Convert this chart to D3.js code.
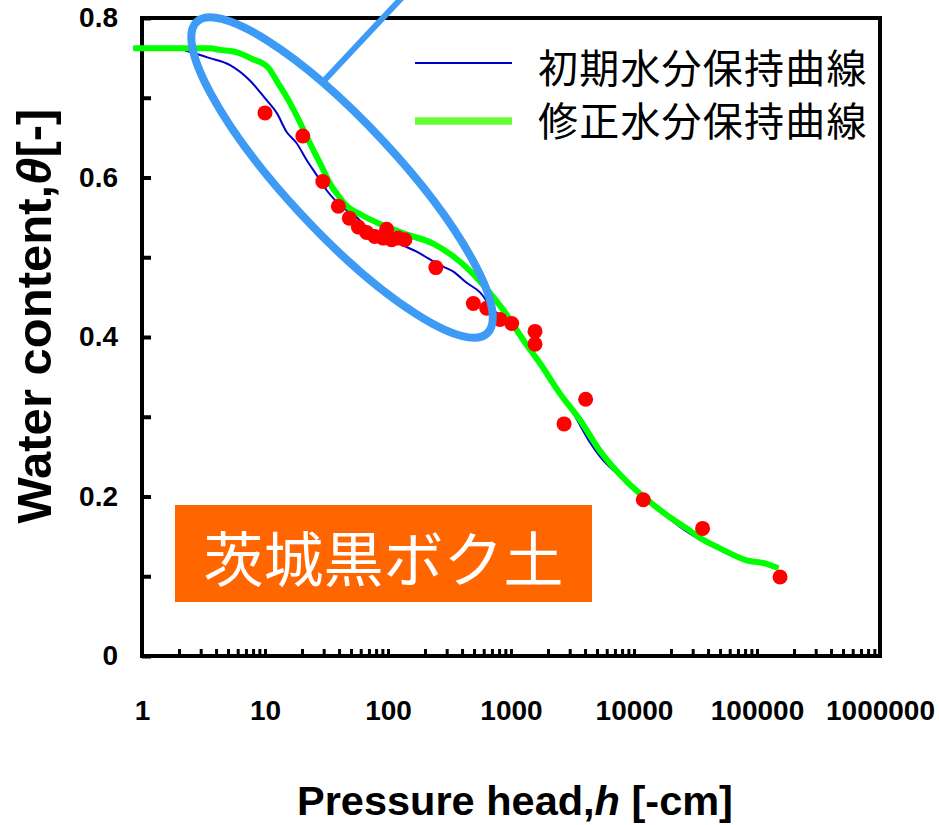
<!DOCTYPE html>
<html><head><meta charset="utf-8">
<script src="https://cdn.jsdelivr.net/npm/d3@7/dist/d3.min.js"></script>
<style>body{margin:0;background:#fff}svg{display:block}</style>
</head><body>
<svg id="chart" width="939" height="825"></svg>
<script>
// ---- data ----
const obsH     = [10, 20.3, 29.5, 39.5, 48.5, 57.4, 67, 78, 91.6, 97.5, 107, 121, 137, 245, 494, 634, 814, 1013, 1567, 1567, 2700, 4045, 11900, 36100, 154000];
const obsTheta = [0.681, 0.652, 0.595, 0.564, 0.549, 0.538, 0.531, 0.526, 0.524, 0.535, 0.522, 0.524, 0.522, 0.487, 0.442, 0.436, 0.422, 0.417, 0.407, 0.391, 0.291, 0.322, 0.196, 0.160, 0.099];

const initH     = [0.85, 2.0, 2.5, 3.5, 5.2, 7.5, 10.3, 12.45, 15, 18.1, 21.8, 26.3, 31.7, 38, 46, 55.6, 67, 97.5, 125, 171, 265, 340, 436, 560, 718, 922, 1183, 1720, 2351, 3213, 4256, 5300, 7700, 11200, 16300, 32400, 50000, 77400, 120000, 149000];
const initTheta = [0.762, 0.761, 0.757, 0.750, 0.741, 0.722, 0.697, 0.681, 0.657, 0.643, 0.622, 0.603, 0.584, 0.570, 0.559, 0.550, 0.538, 0.529, 0.517, 0.507, 0.490, 0.482, 0.468, 0.456, 0.434, 0.421, 0.400, 0.367, 0.334, 0.304, 0.271, 0.250, 0.225, 0.202, 0.181, 0.148, 0.133, 0.1225, 0.114, 0.110];

const modH     = [0.85, 3.57, 4.3, 5.9, 7.8, 10.6, 12.8, 15.5, 18.7, 22.5, 28, 34.8, 38.3, 45, 61, 91.6, 133, 233, 340, 464, 596, 865, 1262, 1720, 2500, 3640, 5300, 8700, 11900, 18400, 26800, 34500, 50000, 82400, 120000, 149000];
const modTheta = [0.762, 0.762, 0.760, 0.757, 0.749, 0.738, 0.718, 0.697, 0.673, 0.647, 0.618, 0.589, 0.580, 0.566, 0.553, 0.540, 0.530, 0.517, 0.501, 0.483, 0.465, 0.434, 0.396, 0.367, 0.329, 0.296, 0.257, 0.219, 0.200, 0.177, 0.160, 0.148, 0.135, 0.120, 0.1155, 0.110];

const xMajorTicks = [1, 10, 100, 1000, 10000, 100000, 1000000];
const xTickLabels = ["1", "10", "100", "1000", "10000", "100000", "1000000"];
const yTickValues = [0, 0.1, 0.2, 0.3, 0.4, 0.5, 0.6, 0.7, 0.8];
const yTickLabels = ["0", "", "0.2", "", "0.4", "", "0.6", "", "0.8"];
const legendLabels = ["初期水分保持曲線", "修正水分保持曲線"];
const soilLabel = "茨城黒ボク土";

// ---- layout ----
const svg = d3.select("#chart");
const mLeft = 142, mRight = 880, mTop = 18, mBottom = 656;
const x = d3.scaleLog().domain([1, 1e6]).range([mLeft, mRight]);
const y = d3.scaleLinear().domain([0, 0.8]).range([mBottom, mTop]);
const latin = "'Liberation Sans', Arial, Helvetica, sans-serif";
const cjk = "'Noto Sans CJK JP', 'Noto Sans CJK SC', sans-serif";

// minor ticks for log axis
const xAllTicks = [];
for (let d = 0; d < 6; d++) for (let m = 1; m <= 9; m++) xAllTicks.push(m * Math.pow(10, d));
xAllTicks.push(1e6);

const xAxis = d3.axisBottom(x).tickValues(xAllTicks)
  .tickFormat(v => { const i = xMajorTicks.indexOf(v); return i >= 0 ? xTickLabels[i] : ""; })
  .tickSizeInner(-7).tickSizeOuter(0).tickPadding(44);
const gx = svg.append("g").attr("transform", `translate(0,${mBottom})`).call(xAxis);
gx.select(".domain").remove();
gx.selectAll("line").attr("stroke", "#000").attr("stroke-width", 3);
gx.selectAll("text").attr("font-family", latin).attr("font-weight", "bold").attr("font-size", 28).attr("fill", "#000");

const yAxis = d3.axisLeft(y).tickValues(yTickValues)
  .tickFormat((v, i) => yTickLabels[i])
  .tickSizeInner(-9).tickSizeOuter(0).tickPadding(24);
const gy = svg.append("g").attr("transform", `translate(${mLeft},0)`).call(yAxis);
gy.select(".domain").remove();
gy.selectAll("line").attr("stroke", "#000").attr("stroke-width", 4);
gy.selectAll("text").attr("font-family", latin).attr("font-weight", "bold").attr("font-size", 28).attr("fill", "#000");

// frame
svg.append("rect").attr("x", mLeft).attr("y", mTop).attr("width", mRight - mLeft).attr("height", mBottom - mTop)
  .attr("fill", "none").attr("stroke", "#000").attr("stroke-width", 4);

// curves
const line = d3.line().x(d => x(d[0])).y(d => y(d[1])).curve(d3.curveMonotoneX);
svg.append("path").datum(initH.map((h, i) => [h, initTheta[i]])).attr("d", line)
  .attr("fill", "none").attr("stroke", "#0000CC").attr("stroke-width", 2);
svg.append("path").datum(modH.map((h, i) => [h, modTheta[i]])).attr("d", line)
  .attr("fill", "none").attr("stroke", "#00FF00").attr("stroke-width", 6).attr("stroke-linejoin", "round");

// observed points
svg.append("g").selectAll("circle").data(obsH.map((h, i) => [h, obsTheta[i]])).join("circle")
  .attr("cx", d => x(d[0])).attr("cy", d => y(d[1])).attr("r", 7.5).attr("fill", "#FF0000");

// annotation ellipse + callout line (anchored in data space)
const ellCenter = [42.3, 0.6];
svg.append("ellipse").attr("rx", 213).attr("ry", 55)
  .attr("transform", `translate(${x(ellCenter[0])},${y(ellCenter[1])}) rotate(47)`)
  .attr("fill", "none").attr("stroke", "#3D9BF5").attr("stroke-width", 8);
svg.append("line").attr("x1", x(29)).attr("y1", y(0.7185)).attr("x2", x(146)).attr("y2", y(0.834))
  .attr("stroke", "#3D9BF5").attr("stroke-width", 6);

// legend
const legend = svg.append("g");
legend.append("line").attr("x1", 415).attr("x2", 512).attr("y1", 63).attr("y2", 63)
  .attr("stroke", "#0000CC").attr("stroke-width", 2);
legend.append("line").attr("x1", 415).attr("x2", 512).attr("y1", 121).attr("y2", 121)
  .attr("stroke", "#66FF33").attr("stroke-width", 7.5);
legend.append("text").attr("x", 538).attr("y", 83).text(legendLabels[0])
  .attr("font-family", cjk).attr("font-size", 40).attr("letter-spacing", 1.2).attr("fill", "#000");
legend.append("text").attr("x", 538).attr("y", 136).text(legendLabels[1])
  .attr("font-family", cjk).attr("font-size", 40).attr("letter-spacing", 1.2).attr("fill", "#000");

// soil label box
svg.append("rect").attr("x", 175).attr("y", 505).attr("width", 417).attr("height", 97).attr("fill", "#FF6600");
svg.append("text").attr("x", 383.5).attr("y", 582).attr("text-anchor", "middle").text(soilLabel)
  .attr("font-family", cjk).attr("font-size", 60).attr("fill", "#fff");

// axis titles
const xt = svg.append("text").attr("x", 515).attr("y", 815).attr("text-anchor", "middle")
  .attr("font-family", latin).attr("font-weight", "bold").attr("font-size", 41.5).attr("fill", "#000");
xt.append("tspan").text("Pressure head,");
xt.append("tspan").attr("font-style", "italic").text("h");
xt.append("tspan").text(" [-cm]");

const yt = svg.append("text").attr("transform", "translate(51,316) rotate(-90)").attr("text-anchor", "middle")
  .attr("font-family", latin).attr("font-weight", "bold").attr("font-size", 49).attr("fill", "#000");
yt.append("tspan").text("Water content,");
yt.append("tspan").attr("font-style", "italic").text("θ");
yt.append("tspan").text("[-]");
</script>
</body></html>
